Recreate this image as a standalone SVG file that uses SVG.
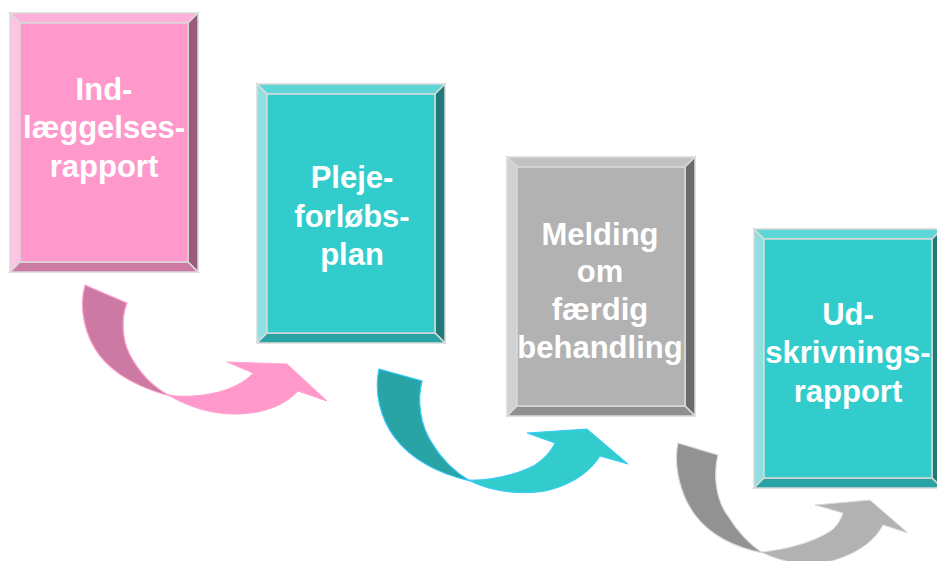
<svg xmlns="http://www.w3.org/2000/svg" width="937" height="561" viewBox="0 0 937 561">
  <style>
    .bv { stroke: #D9D9D9; stroke-width: 1.5; stroke-linejoin: miter; }
    .pink .face { fill: #FF99CC; } .pink .top { fill: #FFB0D8; } .pink .left { fill: #FFC4E1; } .pink .right { fill: #995C7A; } .pink .bottom { fill: #CC7AA3; }
    .teal .face { fill: #33CCCC; } .teal .top { fill: #5CD6D6; } .teal .left { fill: #8FE0E0; } .teal .right { fill: #1F7A7A; } .teal .bottom { fill: #29A3A3; }
    .gray .face { fill: #B2B2B2; } .gray .top { fill: #C2C2C2; } .gray .left { fill: #D1D1D1; } .gray .right { fill: #6B6B6B; } .gray .bottom { fill: #8F8F8F; }
    .lbl { font-family: "Liberation Sans", Arial, sans-serif; font-weight: bold; font-size: 31px; fill: #FFFFFF; text-anchor: middle; }
    .a1d { fill: #CC7AA3; stroke: #FFA3D1; stroke-width: 1.2; }
    .a1l { fill: #FF99CC; stroke: #FFA3D1; stroke-width: 1; }
    .a2d { fill: #29A3A3; stroke: #33CCFF; stroke-width: 1.2; }
    .a2l { fill: #33CCCC; stroke: #33CCFF; stroke-width: 1; }
    .a3d { fill: #929292; stroke: #DDDDDD; stroke-width: 1.2; }
    .a3l { fill: #B2B2B2; stroke: #DDDDDD; stroke-width: 1; }
  </style>

  <g id="connectors">
    <path class="a1d" d="M85,285 L127,303 C121,318 122,340 130,355 C140,374 155,388 170,396 C140,388 115,375 100,356 C86,338 78,310 85,285 Z"/>
    <path class="a1l" d="M168,395 C185,398 215,396 235,386 C243,382 249,378 253,373 L227,362 L287,364 L327,401 L298,391 C285,405 265,413 240,414 C215,415 190,408 168,395 Z"/>
    <path class="a2d" d="M379,369 L422,381 C417,400 420,425 432,443 C442,460 455,472 470,481 C440,474 412,460 395,438 C380,418 374,392 379,369 Z"/>
    <path class="a2l" d="M468,480 C485,481 515,476 535,465 C545,458 551,451 555,443 L527,433 L587,429 L628,464 L600,456 C590,472 572,485 545,491 C520,495 492,492 468,480 Z"/>
    <path class="a3d" d="M678,443 L718,455 C713,475 716,500 728,516 C738,532 750,545 763,553 C735,548 710,535 695,515 C680,495 673,465 678,443 Z"/>
    <path class="a3l" d="M761,552 C785,550 815,542 832,530 C838,525 841,519 843,513 L815,505 L870,500 L908,533 L883,525 C875,540 860,552 835,560 C815,566 790,566 761,552 Z"/>
  </g>

  <g id="node1" class="pink">
    <g transform="translate(10,13)">
      <polygon class="bv top" points="0,0 188,0 178,10 10,10"/>
      <polygon class="bv left" points="0,0 10,10 10,249 0,259"/>
      <polygon class="bv right" points="188,0 188,259 178,249 178,10"/>
      <polygon class="bv bottom" points="0,259 10,249 178,249 188,259"/>
      <rect class="bv face" x="10" y="10" width="168" height="239"/>
    </g>
    <text class="lbl" x="104" y="100">Ind-</text>
    <text class="lbl" x="104" y="138">læggelses-</text>
    <text class="lbl" x="104" y="177">rapport</text>
  </g>

  <g id="node2" class="teal">
    <g transform="translate(257,84)">
      <polygon class="bv top" points="0,0 188,0 178,10 10,10"/>
      <polygon class="bv left" points="0,0 10,10 10,249 0,259"/>
      <polygon class="bv right" points="188,0 188,259 178,249 178,10"/>
      <polygon class="bv bottom" points="0,259 10,249 178,249 188,259"/>
      <rect class="bv face" x="10" y="10" width="168" height="239"/>
    </g>
    <text class="lbl" x="352" y="188">Pleje-</text>
    <text class="lbl" x="352" y="227">forløbs-</text>
    <text class="lbl" x="352" y="265">plan</text>
  </g>

  <g id="node3" class="gray">
    <g transform="translate(507,157)">
      <polygon class="bv top" points="0,0 188,0 178,10 10,10"/>
      <polygon class="bv left" points="0,0 10,10 10,249 0,259"/>
      <polygon class="bv right" points="188,0 188,259 178,249 178,10"/>
      <polygon class="bv bottom" points="0,259 10,249 178,249 188,259"/>
      <rect class="bv face" x="10" y="10" width="168" height="239"/>
    </g>
    <text class="lbl" x="600" y="245">Melding</text>
    <text class="lbl" x="600" y="282">om</text>
    <text class="lbl" x="600" y="320">færdig</text>
    <text class="lbl" x="600" y="358">behandling</text>
  </g>

  <g id="node4" class="teal">
    <g transform="translate(754,229)">
      <polygon class="bv top" points="0,0 188,0 178,10 10,10"/>
      <polygon class="bv left" points="0,0 10,10 10,249 0,259"/>
      <polygon class="bv right" points="188,0 188,259 178,249 178,10"/>
      <polygon class="bv bottom" points="0,259 10,249 178,249 188,259"/>
      <rect class="bv face" x="10" y="10" width="168" height="239"/>
    </g>
    <text class="lbl" x="848" y="325">Ud-</text>
    <text class="lbl" x="848" y="363">skrivnings-</text>
    <text class="lbl" x="848" y="402">rapport</text>
  </g>
</svg>
